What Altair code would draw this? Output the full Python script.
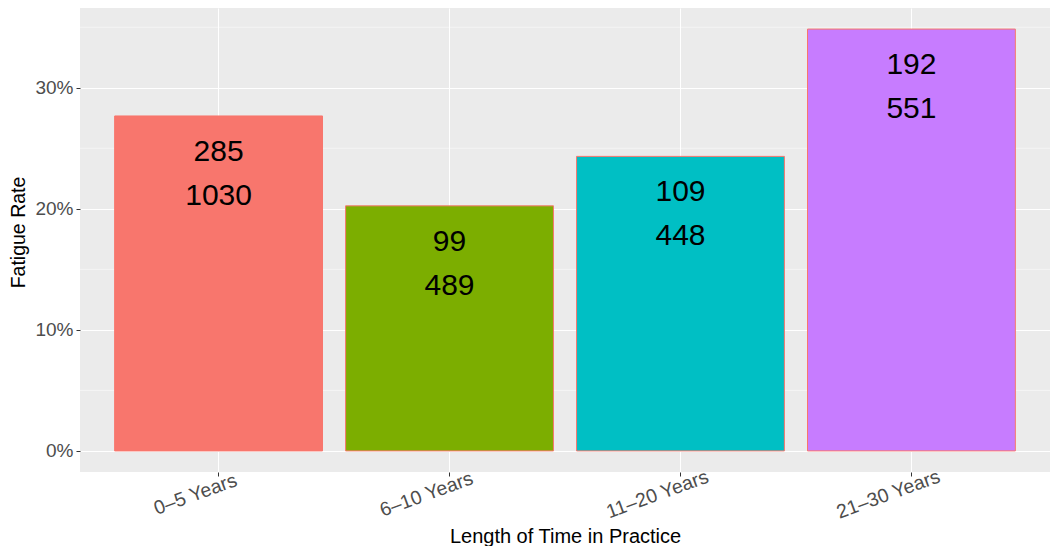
import altair as alt
import pandas as pd

categories = ["0–5 Years", "6–10 Years", "11–20 Years", "21–30 Years"]
fatigued = [285, 99, 109, 192]
totals = [1030, 489, 448, 551]
colors = ["#F8766D", "#7CAE00", "#00BFC4", "#C77CFF"]
y_ticks = [0.0, 0.1, 0.2, 0.3]
minor_ticks = [0.05, 0.15, 0.25, 0.35]

FONT = "Liberation Sans"

df = pd.DataFrame({"cat": categories, "fatigued": fatigued, "total": totals})
df["rate"] = df["fatigued"] / df["total"]
df["top_label"] = df["fatigued"].astype(str)
df["bottom_label"] = df["total"].astype(str)

rmax = float(df["rate"].max())
yscale = alt.Scale(domain=[-rmax * 0.05, rmax * 1.05], nice=False, zero=False)
xscale = alt.Scale(domain=categories, paddingInner=0.1, paddingOuter=0.15)

x_axis = alt.Axis(
    bandPosition=0.5, domain=False, grid=True, gridColor="white", gridWidth=1,
    ticks=True, tickColor="#333333", tickSize=4, tickWidth=1,
    labelAngle=-20, labelAlign="center", labelBaseline="middle",
    labelOffset=-23, labelPadding=18, labelFont=FONT, labelFontSize=19.5,
    labelColor="#4D4D4D", title="Length of Time in Practice", titleFont=FONT,
    titleFontSize=20, titleFontWeight="normal", titleColor="black",
    titleBaseline="alphabetic", titleY=70,
)
y_axis = alt.Axis(
    values=y_ticks, format=".0%", domain=False, grid=True, gridColor="white",
    gridWidth=1, ticks=True, tickColor="#333333", tickSize=4, tickWidth=1,
    labelPadding=3, labelFont=FONT, labelFontSize=19, labelColor="#4D4D4D",
    title="Fatigue Rate", titleFont=FONT, titleFontSize=19.5,
    titleFontWeight="normal", titleColor="black", titleBaseline="alphabetic",
    titleX=-56, titleY=224,
)

minor = (
    alt.Chart(pd.DataFrame({"v": minor_ticks}))
    .mark_rule(color="white", strokeWidth=0.5)
    .encode(y=alt.Y("v:Q", scale=yscale, axis=y_axis))
)

base = alt.Chart(df)

bars = base.mark_bar(stroke="#F8766D", strokeWidth=1).encode(
    x=alt.X("cat:N", sort=categories, scale=xscale, axis=x_axis),
    y=alt.Y("rate:Q", scale=yscale, axis=y_axis),
    y2=alt.datum(0),
    color=alt.Color("cat:N", scale=alt.Scale(domain=categories, range=colors), legend=None),
)

t1 = base.mark_text(font=FONT, fontSize=30, color="black", baseline="alphabetic", dy=45).encode(
    x=alt.X("cat:N", sort=categories, scale=xscale, axis=x_axis),
    y=alt.Y("rate:Q", scale=yscale, axis=y_axis),
    text="top_label:N",
)
t2 = base.mark_text(font=FONT, fontSize=30, color="black", baseline="alphabetic", dy=89).encode(
    x=alt.X("cat:N", sort=categories, scale=xscale, axis=x_axis),
    y=alt.Y("rate:Q", scale=yscale, axis=y_axis),
    text="bottom_label:N",
)

chart = (
    alt.layer(minor, bars, t1, t2)
    .resolve_axis(y="shared", x="shared")
    .properties(
        width=970, height=464,
        autosize=alt.AutoSizeParams(type="none"),
        padding={"left": 72, "top": 0, "right": 0, "bottom": 74},
        background="white",
    )
    .configure_view(fill="#EBEBEB", strokeWidth=0)
)

chart.save("out.html", embed_options={"renderer": "svg", "actions": False})
